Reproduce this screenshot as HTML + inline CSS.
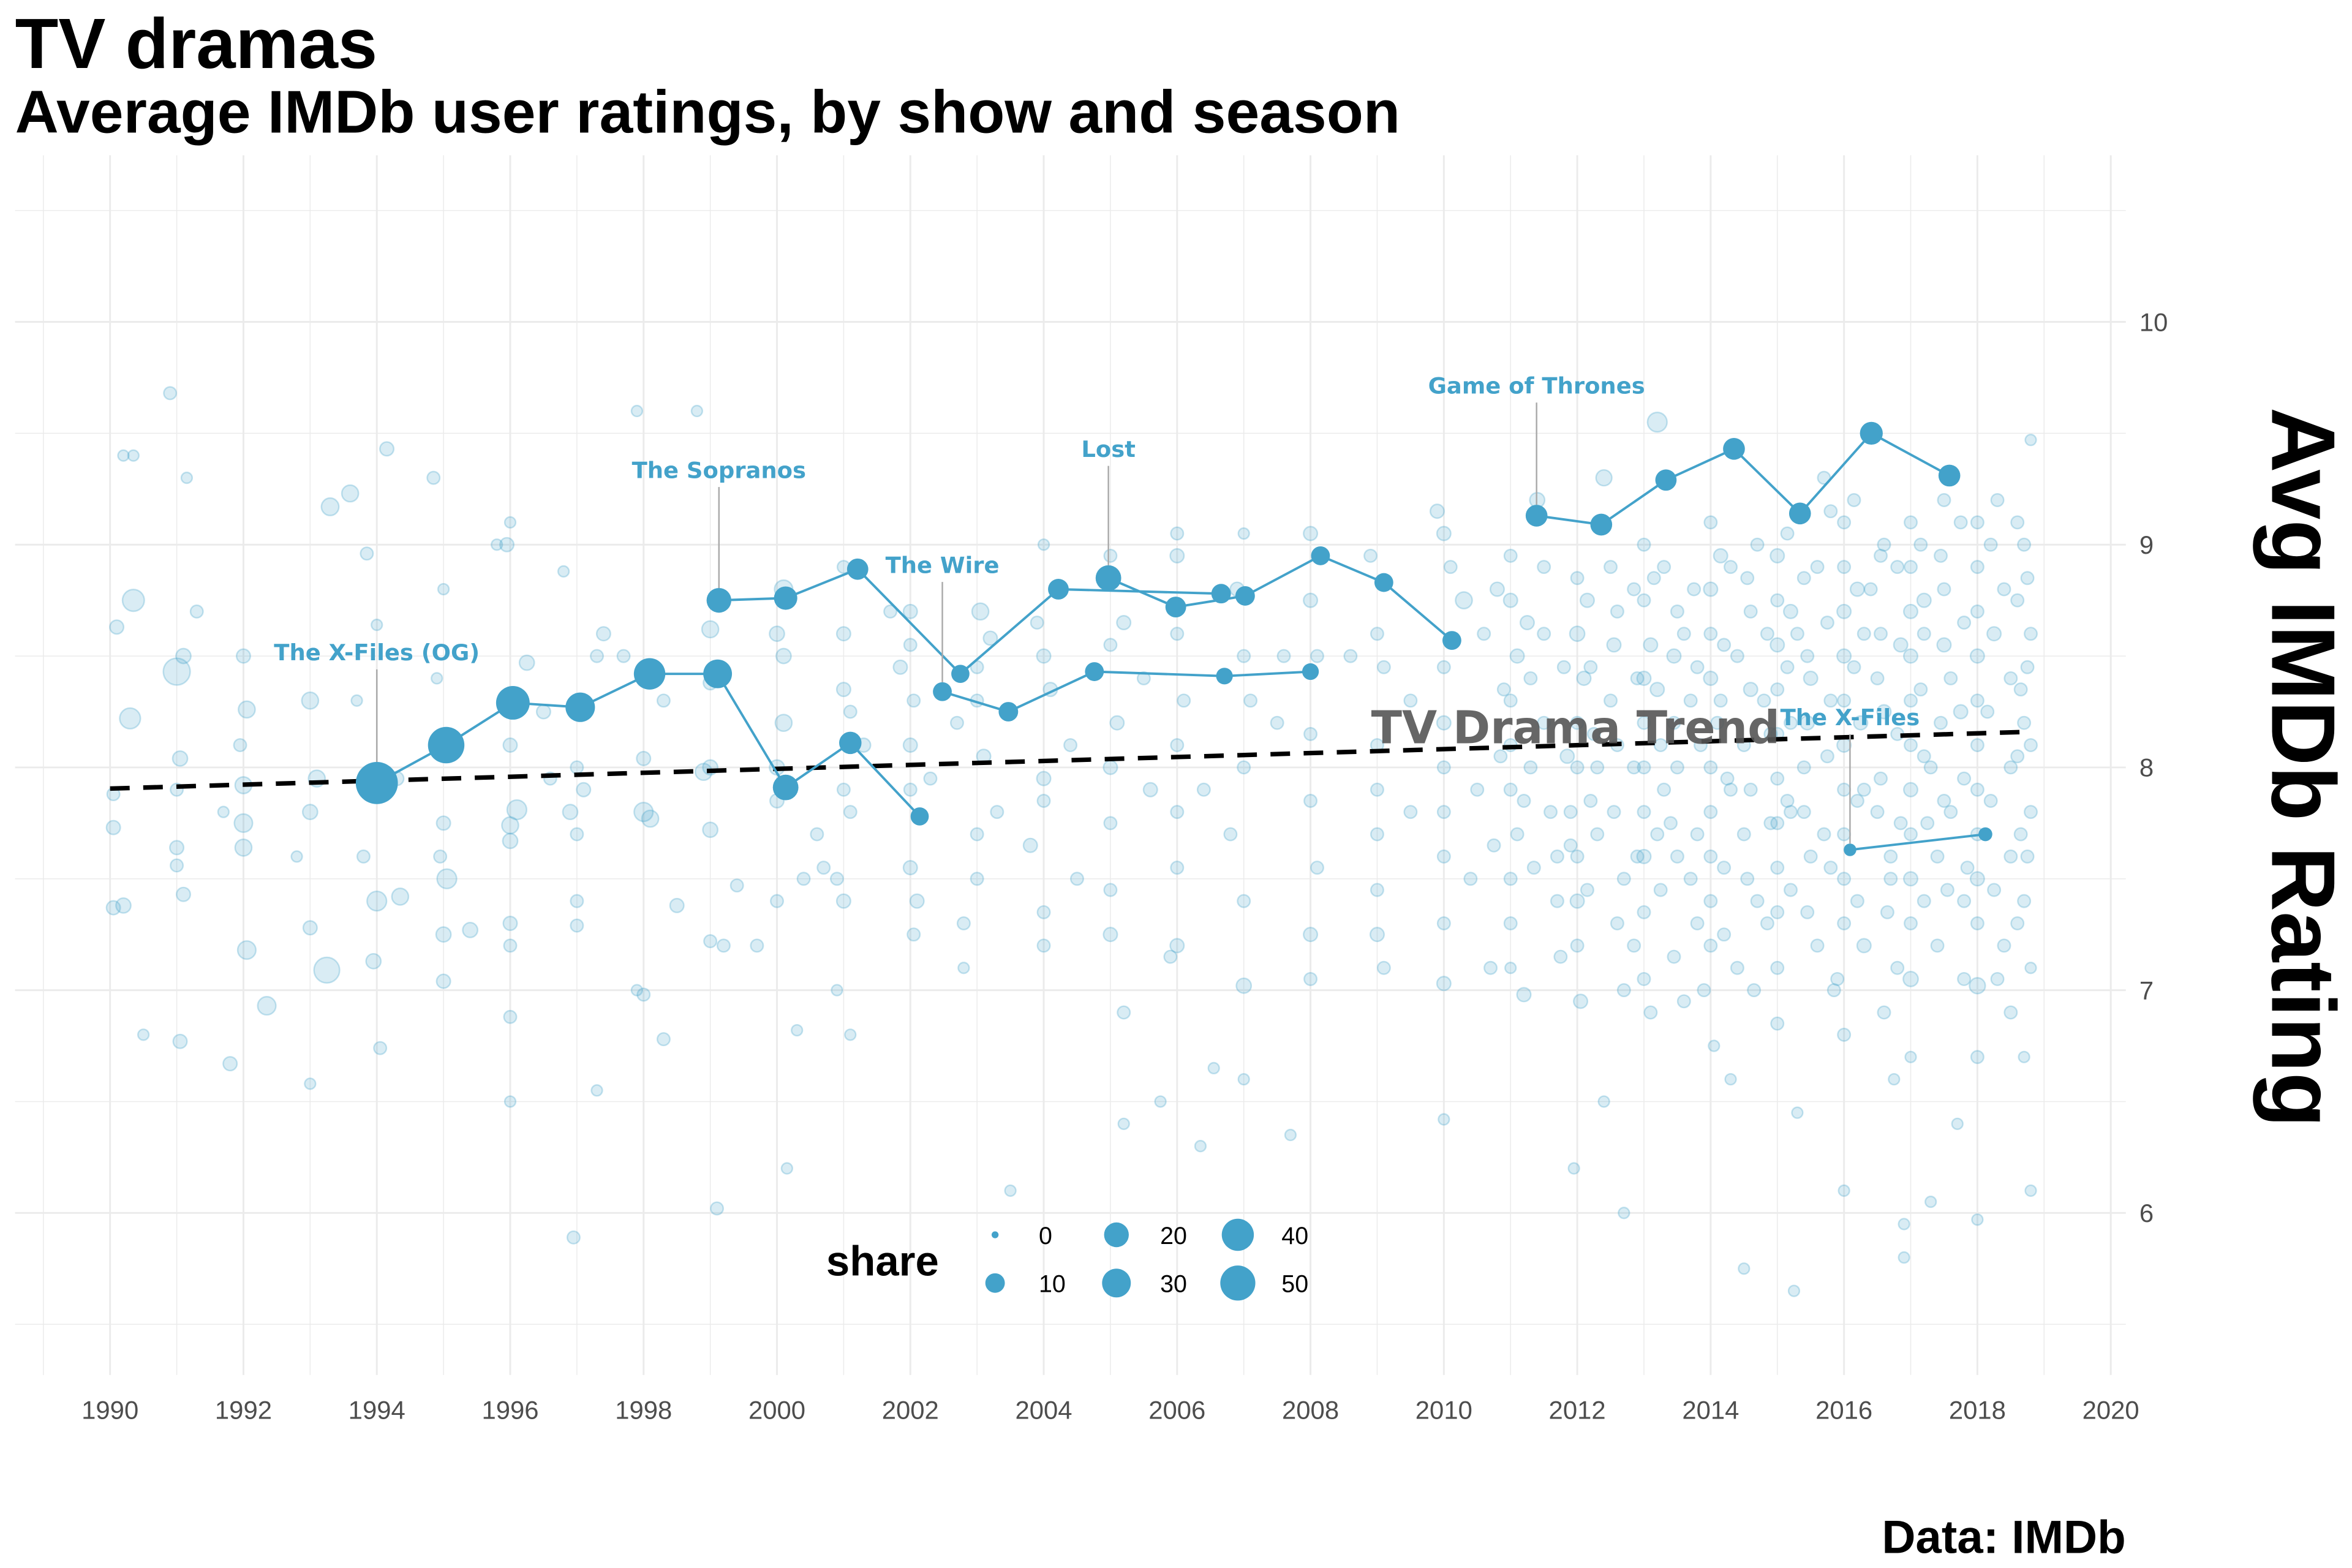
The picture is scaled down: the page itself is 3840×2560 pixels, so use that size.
<!DOCTYPE html>
<html><head><meta charset="utf-8"><style>
html,body{margin:0;padding:0;background:#fff;}
svg{display:block;}
</style></head><body>
<svg id="chart" xmlns="http://www.w3.org/2000/svg" width="3840" height="2560" viewBox="0 0 1560 1040">
<rect width="1560" height="1040" fill="#fff"/>
<g id="grid"></g>
<g id="bg"></g>
<g id="trend"></g>
<g id="series"></g>
<g id="labels"></g>
<g id="axes"></g>
<text x="10" y="45" font-family="Liberation Sans, sans-serif" font-weight="bold" font-size="47">TV dramas</text>
<text x="10" y="88" font-family="Liberation Sans, sans-serif" font-weight="bold" font-size="40">Average IMDb user ratings, by show and season</text>
<text transform="translate(1507,509) rotate(90)" text-anchor="middle" font-family="Liberation Sans, sans-serif" font-weight="bold" font-size="60">Avg IMDb Rating</text>
<text x="1410" y="1030" text-anchor="end" font-family="Liberation Sans, sans-serif" font-weight="bold" font-size="31">Data: IMDb</text>
<g id="legend"></g>
</svg>
<script>
const xTicks = [1990,1992,1994,1996,1998,2000,2002,2004,2006,2008,2010,2012,2014,2016,2018,2020];
const yTicks = [6,7,8,9,10];
const legendShares = [0,10,20,30,40,50];
const xFilesOG = [[1994.0,7.93,78],[1995.04,8.10,55],[1996.04,8.29,45],[1997.05,8.27,32],[1998.09,8.42,38],[1999.11,8.42,30],[2000.13,7.91,22],[2001.1,8.11,15],[2002.14,7.78,8]];
const sopranos = [[1999.13,8.75,20],[2000.13,8.76,17],[2001.21,8.89,13],[2002.75,8.42,8],[2004.22,8.80,12],[2006.66,8.78,10]];
const theWire = [[2002.48,8.34,9],[2003.47,8.25,10],[2004.76,8.43,9],[2006.71,8.41,6],[2008.0,8.43,6]];
const lost = [[2004.97,8.85,22],[2005.98,8.72,12],[2007.02,8.77,10],[2008.15,8.95,9],[2009.1,8.83,9],[2010.12,8.57,9]];
const got = [[2011.39,9.13,14],[2012.36,9.09,14],[2013.33,9.29,13],[2014.35,9.43,14],[2015.34,9.14,14],[2016.41,9.50,16],[2017.58,9.31,14]];
const xFilesNew = [[2016.09,7.63,2],[2018.12,7.70,3]];
const trendStart = [1990, 7.905];
const trendEnd = [2018.8, 8.16];
const bgPoints = [
[1990.05,7.37,3],[1990.05,7.73,3],[1990.05,7.88,2],[1990.1,8.63,3],[1990.35,8.75,14],[1990.2,9.4,1],[1990.35,9.4,1],[1990.3,8.22,12],[1990.5,6.8,1],[1990.2,7.38,4],
[1991.0,8.43,25],[1991.1,8.5,4],[1991.05,8.04,4],[1991.0,7.9,2],[1991.0,7.64,3],[1991.0,7.56,2],[1991.05,6.77,3],[1991.1,7.43,3],[1991.15,9.3,1],[1990.9,9.68,2],[1991.3,8.7,2],
[1992.0,8.5,3],[1992.05,8.26,6],[1991.95,8.1,2],[1992.0,7.92,6],[1992.0,7.75,8],[1992.0,7.64,6],[1992.05,7.18,8],[1991.8,6.67,3],[1992.35,6.93,8],[1991.7,7.8,1],
[1993.0,8.3,6],[1993.1,7.95,6],[1993.0,7.8,4],[1993.0,7.28,3],[1993.25,7.09,22],[1993.3,9.17,7],[1993.6,9.23,6],[1993.0,6.58,1],[1992.8,7.6,1],
[1994.15,9.43,3],[1993.85,8.96,2],[1994.0,8.64,1],[1993.7,8.3,1],[1994.0,7.4,10],[1994.35,7.42,6],[1993.95,7.13,4],[1994.05,6.74,2],[1993.8,7.6,2],[1994.3,7.95,3],
[1994.85,9.3,2],[1995.0,8.8,1],[1995.0,7.75,3],[1995.05,7.5,10],[1995.0,7.25,4],[1995.0,7.04,3],[1994.95,7.6,2],[1995.4,7.27,4],[1994.9,8.4,1],
[1996.0,9.1,1],[1995.95,9.0,3],[1995.8,9.0,1],[1996.25,8.47,4],[1996.5,8.25,3],[1996.0,8.1,3],[1996.1,7.81,10],[1996.0,7.74,6],[1996.0,7.67,4],[1996.0,7.3,3],[1996.0,7.2,2],[1996.0,6.88,2],[1996.0,6.5,1],[1996.6,7.95,2],
[1996.8,8.88,1],[1997.0,8.0,2],[1996.9,7.8,4],[1997.0,7.7,2],[1997.0,7.4,2],[1997.0,7.29,2],[1996.95,5.89,2],[1997.3,6.55,1],[1997.3,8.5,2],[1997.1,7.9,3],
[1997.9,9.6,1],[1997.4,8.6,3],[1997.7,8.5,2],[1998.0,8.04,3],[1998.0,7.8,9],[1998.1,7.77,6],[1997.9,7.0,1],[1998.0,6.98,2],[1998.5,7.38,3],[1998.3,6.78,2],[1998.3,8.3,2],
[1998.8,9.6,1],[1999.0,8.62,6],[1999.0,8.38,3],[1999.0,8.0,4],[1999.0,7.72,4],[1999.4,7.47,2],[1999.0,7.22,2],[1999.2,7.2,2],[1999.1,6.02,2],[1998.9,7.98,6],
[2000.1,8.8,8],[2000.0,8.6,4],[2000.1,8.5,4],[2000.1,8.2,6],[2000.0,8.0,4],[2000.0,7.85,3],[2000.4,7.5,2],[2000.0,7.4,2],[1999.7,7.2,2],[2000.3,6.82,1],[2000.15,6.2,1],[2000.6,7.7,2],
[2001.0,8.9,2],[2001.0,8.6,3],[2001.0,8.35,3],[2001.1,8.25,2],[2001.3,8.1,3],[2001.0,7.9,2],[2001.1,7.8,2],[2000.9,7.5,2],[2001.0,7.4,3],[2000.9,7.0,1],[2001.1,6.8,1],[2000.7,7.55,2],
[2002.0,8.7,3],[2002.0,8.55,2],[2001.85,8.45,3],[2002.05,8.3,2],[2002.0,8.1,3],[2002.0,7.9,2],[2002.0,7.55,3],[2002.1,7.4,3],[2002.05,7.25,2],[2001.7,8.7,2],[2002.3,7.95,2],
[2003.05,8.7,6],[2003.2,8.58,3],[2003.0,8.45,2],[2003.0,8.3,2],[2002.7,8.2,2],[2003.1,8.05,3],[2003.0,7.7,2],[2003.0,7.5,2],[2002.8,7.3,2],[2002.8,7.1,1],[2003.5,6.1,1],[2003.3,7.8,2],
[2004.0,9.0,1],[2003.9,8.65,2],[2004.0,8.5,3],[2004.1,8.35,3],[2004.0,7.95,3],[2004.0,7.85,2],[2003.8,7.65,3],[2004.0,7.35,2],[2004.0,7.2,2],[2004.4,8.1,2],[2004.5,7.5,2],
[2005.0,8.95,2],[2005.2,8.65,3],[2005.0,8.55,2],[2005.1,8.2,3],[2005.0,8.0,3],[2005.0,7.75,2],[2005.0,7.45,2],[2005.0,7.25,3],[2005.2,6.9,2],[2005.2,6.4,1],[2005.5,8.4,2],[2005.6,7.9,3],
[2006.0,9.05,2],[2006.0,8.95,3],[2006.0,8.6,2],[2006.1,8.3,2],[2006.0,8.1,2],[2006.0,7.8,2],[2006.0,7.55,2],[2006.0,7.2,3],[2005.9,7.15,2],[2005.75,6.5,1],[2006.35,6.3,1],[2006.4,7.9,2],
[2007.0,9.05,1],[2006.9,8.8,3],[2007.0,8.5,2],[2007.1,8.3,2],[2007.0,8.0,2],[2006.8,7.7,2],[2007.0,7.4,2],[2007.0,7.02,4],[2006.55,6.65,1],[2007.0,6.6,1],[2007.5,8.2,2],
[2008.0,9.05,3],[2008.0,8.75,3],[2008.1,8.5,2],[2008.0,8.15,2],[2008.0,7.85,2],[2008.1,7.55,2],[2008.0,7.25,3],[2008.0,7.05,2],[2007.7,6.35,1],[2007.6,8.5,2],[2008.6,8.5,2],
[2008.9,8.95,2],[2009.0,8.6,2],[2009.1,8.45,2],[2009.0,8.1,2],[2009.0,7.9,2],[2009.0,7.7,2],[2009.0,7.45,2],[2009.0,7.25,3],[2009.1,7.1,2],[2009.5,8.3,2],[2009.5,7.8,2],
[2009.9,9.15,3],[2010.0,9.05,3],[2010.1,8.9,2],[2010.3,8.75,6],[2010.0,8.45,2],[2010.0,8.2,3],[2010.0,8.0,2],[2010.0,7.8,2],[2010.0,7.6,2],[2010.0,7.3,2],[2010.0,7.03,3],[2010.0,6.42,1],[2010.6,8.6,2],[2010.5,7.9,2],[2010.4,7.5,2],[2010.7,7.1,2],
[2011.0,8.95,2],[2011.0,8.75,3],[2011.1,8.5,3],[2011.0,8.3,2],[2011.0,8.1,2],[2011.0,7.9,2],[2011.1,7.7,2],[2011.0,7.5,2],[2011.0,7.3,2],[2011.0,7.1,1],[2011.2,6.98,3],[2011.5,8.6,2],[2011.5,8.2,2],[2011.6,7.8,2],[2011.7,7.4,2],[2011.4,9.2,4],
[2012.0,8.85,2],[2012.0,8.6,4],[2012.1,8.4,3],[2012.0,8.2,2],[2012.0,8.0,2],[2011.9,7.8,2],[2012.0,7.6,2],[2012.0,7.4,3],[2012.0,7.2,2],[2012.05,6.95,3],[2011.95,6.2,1],[2012.3,7.7,2],[2012.5,8.3,2],[2012.4,9.3,5],[2012.6,8.7,2],[2012.7,7.0,2],[2012.7,6.0,1],[2012.4,6.5,1],
[2013.0,9.0,2],[2013.0,8.75,2],[2013.1,8.55,3],[2013.0,8.4,3],[2013.0,8.2,2],[2013.0,8.0,2],[2013.0,7.8,2],[2013.0,7.6,3],[2013.0,7.35,2],[2013.0,7.05,2],[2013.1,6.9,2],[2013.2,9.55,10],[2013.3,8.9,2],[2013.5,8.0,2],[2013.5,7.6,2],[2013.6,8.6,2],[2013.6,6.95,2],[2013.8,7.3,2],[2013.7,8.3,2],
[2014.0,9.1,2],[2014.0,8.8,3],[2014.0,8.6,2],[2014.0,8.4,3],[2014.1,8.2,2],[2014.0,8.0,2],[2014.0,7.8,2],[2014.0,7.6,2],[2014.0,7.4,2],[2014.0,7.2,2],[2014.05,6.75,1],[2014.3,8.9,2],[2014.4,8.5,2],[2014.5,8.1,2],[2014.5,7.7,2],[2014.4,7.1,2],[2014.3,6.6,1],[2014.5,5.75,1],[2014.7,9.0,2],[2014.8,8.3,2],
[2015.0,8.95,3],[2015.0,8.75,2],[2015.0,8.55,3],[2015.0,8.35,2],[2015.0,8.15,2],[2015.0,7.95,2],[2015.0,7.75,2],[2015.0,7.55,2],[2015.0,7.35,2],[2015.0,7.1,2],[2015.0,6.85,2],[2015.3,6.45,1],[2015.25,5.65,1],[2015.3,8.6,2],[2015.4,8.0,2],[2015.5,7.6,2],[2015.6,8.9,2],[2015.7,9.3,2],[2015.6,7.2,2],[2015.8,8.3,2],
[2016.0,9.1,2],[2016.0,8.9,2],[2016.0,8.7,3],[2016.0,8.5,3],[2016.0,8.3,2],[2016.0,8.1,3],[2016.0,7.9,2],[2016.0,7.7,2],[2016.0,7.5,2],[2016.0,7.3,2],[2015.9,7.05,2],[2016.0,6.8,2],[2016.0,6.1,1],[2016.3,7.2,3],[2016.4,8.8,2],[2016.5,8.4,2],[2016.5,7.8,2],[2016.6,9.0,2],[2016.7,7.5,2],[2016.6,6.9,2],
[2017.0,9.1,2],[2017.0,8.9,2],[2017.0,8.7,3],[2017.0,8.5,3],[2017.0,8.3,2],[2017.0,8.1,2],[2017.0,7.9,3],[2017.0,7.7,2],[2017.0,7.5,3],[2017.0,7.3,2],[2017.0,7.05,4],[2017.0,6.7,1],[2016.9,5.95,1],[2016.9,5.8,1],[2017.2,8.6,2],[2017.3,8.0,2],[2017.4,7.6,2],[2017.5,9.2,2],[2017.4,7.2,2],[2017.3,6.05,1],[2017.6,8.4,2],[2017.7,6.4,1],
[2018.0,9.1,2],[2018.0,8.9,2],[2018.0,8.7,2],[2018.0,8.5,3],[2018.0,8.3,2],[2018.0,8.1,2],[2018.0,7.9,2],[2018.0,7.7,2],[2018.0,7.5,3],[2018.0,7.3,2],[2018.0,7.02,5],[2018.0,6.7,2],[2018.0,5.97,1],[2018.3,9.2,2],[2018.4,8.8,2],[2018.5,8.4,2],[2018.5,8.0,2],[2018.5,7.6,2],[2018.4,7.2,2],[2018.5,6.9,2],
[2018.7,9.0,2],[2018.8,8.6,2],[2018.7,8.2,2],[2018.8,7.8,2],[2018.7,7.4,2],[2018.8,7.1,1],[2018.8,9.47,1],[2018.8,6.1,1],[2018.7,6.7,1],
[2011.5,8.9,2],[2012.5,8.9,2],[2013.5,8.7,2],[2014.6,8.7,2],[2015.5,8.4,3],[2016.3,8.6,2],[2017.5,8.8,2],[2011.3,8.4,2],[2012.3,8.0,2],[2013.3,7.9,2],[2014.3,7.9,2],[2015.2,7.8,2],[2016.3,7.9,2],[2017.6,7.8,2],[2011.7,7.6,2],[2012.7,7.5,2],[2013.7,7.5,2],[2014.7,7.4,2],[2015.7,7.7,2],[2016.7,7.6,2],[2017.8,7.4,2],
[2010.8,8.8,3],[2010.9,8.35,2],[2010.85,8.05,2],[2010.75,7.65,2],[2011.25,8.65,3],[2011.3,8.0,2],[2011.35,7.55,2],[2011.8,8.45,2],[2011.85,8.05,3],[2011.9,7.65,2],[2011.75,7.15,2],[2011.2,7.85,2],
[2012.15,8.75,3],[2012.2,8.45,2],[2012.25,8.15,2],[2012.2,7.85,2],[2012.15,7.45,2],[2012.55,8.55,3],[2012.6,8.1,2],[2012.55,7.8,2],[2012.6,7.3,2],[2012.85,8.8,2],[2012.9,8.4,2],[2012.85,8.0,2],[2012.9,7.6,2],[2012.85,7.2,2],
[2013.15,8.85,2],[2013.2,8.35,3],[2013.25,8.1,2],[2013.2,7.7,2],[2013.25,7.45,2],[2013.45,8.5,3],[2013.45,8.2,2],[2013.4,7.75,2],[2013.45,7.15,2],[2013.75,8.8,2],[2013.8,8.45,2],[2013.85,8.1,2],[2013.8,7.7,2],[2013.9,7.0,2],
[2014.15,8.95,3],[2014.2,8.55,2],[2014.15,8.3,2],[2014.25,7.95,2],[2014.2,7.55,2],[2014.2,7.25,2],[2014.55,8.85,2],[2014.6,8.35,3],[2014.6,7.9,2],[2014.55,7.5,2],[2014.65,7.0,2],[2014.85,8.6,2],[2014.9,8.15,2],[2014.9,7.75,2],[2014.85,7.3,2],
[2015.15,9.05,2],[2015.2,8.7,3],[2015.15,8.45,2],[2015.2,8.2,2],[2015.15,7.85,2],[2015.2,7.45,2],[2015.4,8.85,2],[2015.45,8.5,2],[2015.45,8.2,3],[2015.4,7.8,2],[2015.45,7.35,2],[2015.75,8.65,2],[2015.75,8.05,2],[2015.8,7.55,2],[2015.85,7.0,2],[2015.8,9.15,2],
[2016.15,9.2,2],[2016.2,8.8,3],[2016.15,8.45,2],[2016.25,8.2,3],[2016.2,7.85,2],[2016.2,7.4,2],[2016.55,8.95,2],[2016.55,8.6,2],[2016.6,8.25,3],[2016.55,7.95,2],[2016.65,7.35,2],[2016.8,8.9,2],[2016.85,8.55,3],[2016.8,8.15,2],[2016.85,7.75,2],[2016.8,7.1,2],[2016.75,6.6,1],
[2017.15,9.0,2],[2017.2,8.75,3],[2017.15,8.35,2],[2017.2,8.05,2],[2017.25,7.75,2],[2017.2,7.4,2],[2017.45,8.95,2],[2017.5,8.55,3],[2017.45,8.2,2],[2017.5,7.85,2],[2017.55,7.45,2],[2017.75,9.1,2],[2017.8,8.65,2],[2017.75,8.25,3],[2017.8,7.95,2],[2017.85,7.55,2],[2017.8,7.05,2],
[2018.2,9.0,2],[2018.25,8.6,3],[2018.15,8.25,2],[2018.2,7.85,2],[2018.25,7.45,2],[2018.3,7.05,2],[2018.6,9.1,2],[2018.6,8.75,2],[2018.65,8.35,2],[2018.6,8.05,2],[2018.65,7.7,2],[2018.6,7.3,2],[2018.75,8.85,2],[2018.75,8.45,2],[2018.8,8.1,2],[2018.75,7.6,2]
];

const NS = 'http://www.w3.org/2000/svg';
const X0 = 73, PXY = (1400-73)/30;
const Y8 = 509, PXR = 147.75;
function sx(year){ return X0 + (year-1990)*PXY; }
function sy(r){ return Y8 - (r-8)*PXR; }
function rad(share){ return 2.3 + Math.sqrt(Math.max(share,0))*1.32; }
function mk(tag, attrs, parent){
  const e = document.createElementNS(NS, tag);
  for (const k in attrs) e.setAttribute(k, attrs[k]);
  parent.appendChild(e); return e;
}
const grid = document.getElementById('grid');
for (let yr=1989; yr<=2020; yr++){
  const major = yr%2===0;
  const l = mk('line',{x1:sx(yr),x2:sx(yr),y1:103,y2:912,stroke:'#ebebeb','stroke-width':major?1.2:0.6},grid);
  
  
}
for (let r=5.5; r<=10.5; r+=0.5){
  const major = Math.abs(r-Math.round(r))<1e-6;
  const l = mk('line',{x1:10,x2:1410,y1:sy(r),y2:sy(r),stroke:'#ebebeb','stroke-width':major?1.2:0.6},grid);
  
  
}
const axes = document.getElementById('axes');
xTicks.forEach(t=>{
  const e = mk('text',{x:sx(t),y:941,'text-anchor':'middle','font-family':'Liberation Sans, sans-serif','font-size':17,fill:'#4d4d4d'},axes);
  e.textContent = t;
  
  
});
yTicks.forEach(t=>{
  const e = mk('text',{x:1419,y:sy(t)+6,'font-family':'Liberation Sans, sans-serif','font-size':17,fill:'#4d4d4d'},axes);
  e.textContent = t;
  
  
});
const bg = document.getElementById('bg');
bgPoints.forEach(p=>{
  const c = mk('circle',{cx:sx(p[0]),cy:sy(p[1]),r:rad(p[2]),fill:'rgba(67,162,202,0.2)',stroke:'rgba(67,162,202,0.3)','stroke-width':1},bg);
  
  
});
const trend = document.getElementById('trend');
const tl = mk('line',{x1:sx(trendStart[0]),y1:sy(trendStart[1]),x2:sx(trendEnd[0]),y2:sy(trendEnd[1]),stroke:'#000','stroke-width':3,'stroke-dasharray':'13 9'},trend);


const series = document.getElementById('series');
const COL = '#43a2ca';
function drawSeries(arr, name){
  const pts = arr.map(p=>sx(p[0])+','+sy(p[1])).join(' ');
  const pl = mk('polyline',{points:pts,fill:'none',stroke:COL,'stroke-width':1.6},series);
  
  
  arr.forEach(p=>{
    const c = mk('circle',{cx:sx(p[0]),cy:sy(p[1]),r:rad(p[2]),fill:COL},series);
    
    
  });
}
drawSeries(xFilesOG,'x-files-og');
drawSeries(sopranos,'sopranos');
drawSeries(theWire,'the-wire');
drawSeries(lost,'lost');
drawSeries(got,'game-of-thrones');
drawSeries(xFilesNew,'x-files');
const labels = document.getElementById('labels');
const tt = mk('text',{x:1045,y:493,'text-anchor':'middle','font-family':'DejaVu Sans, sans-serif','font-weight':'bold','font-size':30,fill:'#555','fill-opacity':0.9},labels);
tt.textContent = 'TV Drama Trend';


function annot(series, idx, text, ly, name){
  const p = series[idx];
  const x = sx(p[0]);
  const s = mk('line',{x1:x,x2:x,y1:ly+6,y2:sy(p[1])-rad(p[2]),stroke:'#aaa','stroke-width':1},labels);
  
  
  const t = mk('text',{x:x,y:ly,'text-anchor':'middle','font-family':'DejaVu Sans, sans-serif','font-weight':'bold','font-size':15,fill:COL},labels);
  t.textContent = text;
  
  
}
annot(xFilesOG,0,'The X-Files (OG)',438,'x-files-og');
annot(sopranos,0,'The Sopranos',317,'sopranos');
annot(theWire,0,'The Wire',380,'the-wire');
annot(lost,0,'Lost',303,'lost');
annot(got,0,'Game of Thrones',261,'game-of-thrones');
annot(xFilesNew,0,'The X-Files',481,'x-files');
const legend = document.getElementById('legend');
const lt = mk('text',{x:548,y:846,'font-family':'Liberation Sans, sans-serif','font-weight':'bold','font-size':28,fill:'#000'},legend);
lt.textContent = 'share';


legendShares.forEach((s,i)=>{
  const col = Math.floor(i/2), row = i%2;
  const cx = 660 + col*80.5, cy = 819 + row*32;
  const c = mk('circle',{cx:cx,cy:cy,r:rad(s),fill:COL},legend);
  
  
  const t = mk('text',{x:cx+29,y:cy+6,'font-family':'Liberation Sans, sans-serif','font-size':16,fill:'#000'},legend);
  t.textContent = s;
  
  
});
</script>
</body></html>
